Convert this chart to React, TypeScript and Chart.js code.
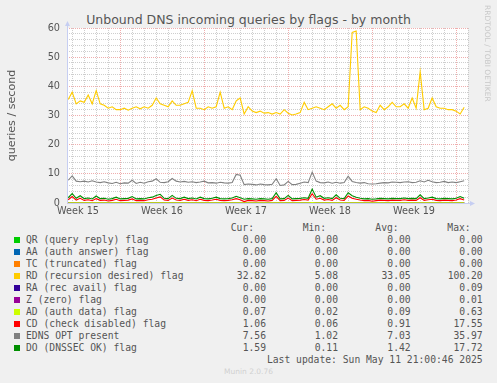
import React, { useEffect, useRef } from "react";
import { Chart, registerables } from "chart.js";

Chart.register(...registerables);

// ---------- data ----------
const TITLE = "Unbound DNS incoming queries by flags - by month";
const Y_LABEL = "queries / second";
const WEEK_LABELS = ["Week 15", "Week 16", "Week 17", "Week 18", "Week 19"];
// x unit = days from the left edge of the plot; Sunday 00:00 after each labelled week
const WEEK_ENDS = [4.42, 11.42, 18.42, 25.42, 32.42];
const X_MAX_DAYS = 33.42;
const SAMPLE_START = 0.1; // days
const SAMPLE_STEP = 1 / 3; // 8 hour samples

const RD = [
  35.5, 38, 34, 35, 34.5, 37, 34, 38.5, 34, 33.5,
  32.5, 33, 32, 32, 32.5, 31.8, 32.5, 33, 32.3, 33,
  32.5, 33.5, 36, 34, 33.5, 33, 35, 33.5, 33.5, 34,
  34.5, 38.5, 32.5, 32.5, 32, 33, 32.5, 33, 38, 32.5,
  33, 32, 35, 36, 30.5, 33, 31.5, 31, 31.5, 30.8,
  31, 30.5, 31, 30.5, 32, 30.8, 30.2, 30.5, 31, 34.5,
  32, 32.5, 33, 32.5, 32, 33, 34, 32.5, 33.5, 32,
  33, 58.5, 59, 32, 33, 32.5, 31.5, 31, 33.5, 32,
  33, 34.5, 33, 33, 34, 32.5, 36, 32.5, 45, 32,
  32.5, 36, 33, 32.5, 32.5, 32, 32, 31.5, 30.5, 32.8,
];
const EDNS = [
  7.8, 9.3, 7.5, 7.3, 7.5, 7.2, 7.6, 7.2, 7.0, 7.3,
  6.9, 6.7, 7.1, 6.6, 6.9, 6.8, 7.8, 6.7, 7.1, 6.8,
  7.3, 7.5, 8.3, 7.1, 7.0, 7.3, 8.4, 7.5, 7.2, 7.4,
  7.1, 7.3, 7.0, 7.2, 7.5, 6.9, 7.0, 6.8, 7.1, 6.9,
  6.8, 7.0, 9.8, 9.5, 6.3, 6.5, 6.4, 6.2, 6.5, 6.3,
  6.2, 6.4, 8.3, 6.0, 6.2, 7.4, 6.3, 6.4, 6.8, 7.2,
  7.0, 10.6, 7.5, 7.0, 6.9, 7.2, 6.8, 7.1, 6.8, 7.0,
  9.2, 7.4, 7.0, 6.8, 7.0, 6.6, 6.5, 6.6, 6.8, 7.0,
  6.9, 7.2, 7.1, 7.0, 7.2, 7.3, 7.0, 7.1, 7.6, 7.2,
  7.8, 7.3, 7.0, 7.1, 7.4, 7.0, 7.2, 7.0, 7.3, 7.6,
];
const DO = [
  1.8, 3.2, 1.6, 2.5, 1.5, 1.7, 1.4, 2.4, 1.5, 1.6,
  1.3, 1.5, 2.0, 1.4, 1.5, 1.6, 2.2, 1.4, 1.5, 1.4,
  1.8, 2.0, 2.6, 3.0, 1.6, 1.5, 2.6, 1.6, 1.5, 2.0,
  1.5, 1.7, 1.4, 2.0, 1.5, 1.4, 1.6, 2.0, 1.5, 1.4,
  1.5, 1.7, 2.3, 1.8, 1.3, 1.5, 1.4, 1.3, 1.5, 1.4,
  1.3, 1.5, 3.5, 1.4, 1.5, 2.6, 1.4, 1.5, 1.6, 1.8,
  1.6, 4.8, 2.0, 2.5, 1.6, 1.8, 1.5, 2.8, 1.6, 1.5,
  3.5, 2.5, 2.0, 1.6, 1.4, 1.5, 1.3, 1.4, 1.6, 1.5,
  1.4, 1.6, 1.5, 1.5, 1.7, 1.5, 1.6, 1.5, 2.8, 1.5,
  1.7, 2.0, 1.5, 1.4, 1.6, 1.5, 1.4, 1.6, 2.2, 1.6,
];
const CD = [
  1.1, 2.2, 1.0, 1.6, 0.9, 1.1, 0.8, 1.5, 0.9, 1.0,
  0.7, 0.9, 1.3, 0.8, 0.9, 1.0, 1.4, 0.8, 0.9, 0.8,
  1.1, 1.3, 1.7, 2.1, 1.0, 0.9, 1.7, 1.0, 0.9, 1.3,
  0.9, 1.1, 0.8, 1.3, 0.9, 0.8, 1.0, 1.3, 0.9, 0.8,
  0.9, 1.1, 1.5, 1.1, 0.5, 0.9, 0.8, 0.7, 0.9, 0.8,
  0.7, 0.9, 2.3, 0.8, 0.9, 1.7, 0.8, 0.9, 1.0, 1.2,
  1.0, 3.2, 1.3, 1.6, 1.0, 1.2, 0.9, 1.8, 1.0, 0.9,
  2.4, 1.6, 1.3, 1.0, 0.8, 0.9, 0.6, 0.8, 1.0, 0.9,
  0.8, 1.0, 0.9, 0.9, 1.1, 0.9, 1.0, 0.9, 1.8, 0.9,
  1.1, 1.3, 0.9, 0.8, 1.0, 0.9, 0.8, 1.0, 1.5, 1.06,
];
const AD = [
  0.09, 0.1, 0.09, 0.09, 0.08, 0.09, 0.1, 0.09, 0.08, 0.09,
  0.09, 0.08, 0.09, 0.1, 0.09, 0.08, 0.09, 0.09, 0.1, 0.09,
  0.08, 0.09, 0.1, 0.11, 0.09, 0.08, 0.1, 0.09, 0.09, 0.08,
  0.09, 0.09, 0.08, 0.09, 0.1, 0.09, 0.08, 0.09, 0.09, 0.08,
  0.09, 0.1, 0.09, 0.09, 0.08, 0.09, 0.08, 0.09, 0.09, 0.08,
  0.09, 0.09, 0.11, 0.08, 0.09, 0.1, 0.09, 0.08, 0.09, 0.09,
  0.1, 0.12, 0.1, 0.09, 0.09, 0.08, 0.09, 0.1, 0.09, 0.08,
  0.11, 0.1, 0.09, 0.09, 0.08, 0.09, 0.08, 0.09, 0.09, 0.08,
  0.09, 0.09, 0.08, 0.09, 0.09, 0.08, 0.09, 0.09, 0.1, 0.09,
  0.09, 0.1, 0.08, 0.09, 0.09, 0.08, 0.09, 0.08, 0.09, 0.07,
];
// series that stayed at 0.00 for the whole month
const ZERO = [
  0, 0, 0, 0, 0, 0, 0, 0, 0, 0, 0, 0, 0, 0, 0, 0, 0, 0, 0, 0,
  0, 0, 0, 0, 0, 0, 0, 0, 0, 0, 0, 0, 0, 0, 0, 0, 0, 0, 0, 0,
  0, 0, 0, 0, 0, 0, 0, 0, 0, 0, 0, 0, 0, 0, 0, 0, 0, 0, 0, 0,
  0, 0, 0, 0, 0, 0, 0, 0, 0, 0, 0, 0, 0, 0, 0, 0, 0, 0, 0, 0,
  0, 0, 0, 0, 0, 0, 0, 0, 0, 0, 0, 0, 0, 0, 0, 0, 0, 0, 0, 0,
];

const SERIES_LABELS = [
  "QR (query reply) flag",
  "AA (auth answer) flag",
  "TC (truncated) flag",
  "RD (recursion desired) flag",
  "RA (rec avail) flag",
  "Z (zero) flag",
  "AD (auth data) flag",
  "CD (check disabled) flag",
  "EDNS OPT present",
  "DO (DNSSEC OK) flag",
];
const SERIES_COLORS = [
  "#00CC00", "#0066B3", "#FF8000", "#FFCC00", "#330099",
  "#990099", "#CCFF00", "#FF0000", "#808080", "#008F00",
];
const SERIES_VALUES = [ZERO, ZERO, ZERO, RD, ZERO, ZERO, AD, CD, EDNS, DO];
const CUR = ["0.00", "0.00", "0.00", "32.82", "0.00", "0.00", "0.07", "1.06", "7.56", "1.59"];
const MIN = ["0.00", "0.00", "0.00", "5.08", "0.00", "0.00", "0.02", "0.06", "1.02", "0.11"];
const AVG = ["0.00", "0.00", "0.00", "33.05", "0.00", "0.00", "0.09", "0.91", "7.03", "1.42"];
const MAX = ["0.00", "0.00", "0.00", "100.20", "0.09", "0.01", "0.63", "17.55", "35.97", "17.72"];
const LAST_UPDATE = "Last update: Sun May 11 21:00:46 2025";
const MUNIN_VERSION = "Munin 2.0.76";
const RRD_CREDIT = "RRDTOOL / TOBI OETIKER";

// ---------- styles ----------
const TEXT = "#555555";
const SANS = "'DejaVu Sans', sans-serif";
const MONO = "'DejaVu Sans Mono', monospace";
const GRID_MINOR = "rgba(185,185,185,0.7)";
const GRID_MAJOR = "rgba(230,130,130,0.65)";
const AXIS = "#C6CEF2";

const near = (a: number, b: number) => Math.abs(a - b) < 1e-6;
const LABEL_CENTERS = WEEK_ENDS.map((w) => w - 3.5);
const DAY_LINES: number[] = [];
for (let d = WEEK_ENDS[0] - 4; d <= X_MAX_DAYS + 1e-6; d += 1) DAY_LINES.push(d);
const X_TICKS = [...DAY_LINES, ...LABEL_CENTERS].sort((a, b) => a - b);

const framePlugin = {
  id: "rrdFrame",
  beforeDraw(chart: any) {
    const { ctx, chartArea: a } = chart;
    ctx.save();
    ctx.fillStyle = "#FFFFFF";
    ctx.fillRect(a.left, a.top, a.right - a.left, a.bottom - a.top);
    ctx.restore();
  },
  afterDraw(chart: any) {
    const { ctx, chartArea: a } = chart;
    const x0 = Math.round(a.left) + 0.5;
    const y0 = Math.round(a.bottom) + 0.5;
    ctx.save();
    ctx.strokeStyle = AXIS;
    ctx.fillStyle = AXIS;
    ctx.lineWidth = 1;
    ctx.beginPath();
    ctx.moveTo(x0, y0);
    ctx.lineTo(x0, a.top - 3);
    ctx.moveTo(x0, y0);
    ctx.lineTo(a.right + 3, y0);
    ctx.stroke();
    // arrows
    ctx.beginPath();
    ctx.moveTo(x0, a.top - 7);
    ctx.lineTo(x0 - 2.5, a.top - 2);
    ctx.lineTo(x0 + 2.5, a.top - 2);
    ctx.closePath();
    ctx.fill();
    ctx.beginPath();
    ctx.moveTo(a.right + 7, y0);
    ctx.lineTo(a.right + 2, y0 - 2.5);
    ctx.lineTo(a.right + 2, y0 + 2.5);
    ctx.closePath();
    ctx.fill();
    ctx.restore();
  },
};

export default function App() {
  const ref = useRef<HTMLCanvasElement>(null);

  useEffect(() => {
    const canvas = ref.current;
    if (!canvas) return;
    const datasets = SERIES_VALUES.map((vals, i) => ({
      label: SERIES_LABELS[i],
      data: vals.map((y, k) => ({ x: SAMPLE_START + k * SAMPLE_STEP, y })),
      borderColor: SERIES_COLORS[i],
      backgroundColor: SERIES_COLORS[i],
      borderWidth: 1.1,
      pointRadius: 0,
      tension: 0,
      fill: false,
      order: SERIES_VALUES.length - 1 - i,
    }));
    const chart = new Chart(canvas, {
      type: "line",
      data: { datasets },
      plugins: [framePlugin],
      options: {
        animation: false,
        responsive: false,
        devicePixelRatio: 1,
        layout: { padding: { left: 0, top: 28, right: 29, bottom: 0 } },
        plugins: {
          legend: { display: false },
          title: { display: false },
          tooltip: { enabled: false },
        },
        scales: {
          x: {
            type: "linear",
            min: 0,
            max: X_MAX_DAYS,
            afterBuildTicks: (s: any) => {
              s.ticks = X_TICKS.map((v) => ({ value: v }));
            },
            afterFit: (s: any) => {
              s.height = 19;
            },
            ticks: {
              autoSkip: false,
              maxRotation: 0,
              minRotation: 0,
              padding: 3,
              color: TEXT,
              font: { family: SANS, size: 9.7 },
              callback: (v: any) => {
                const idx = LABEL_CENTERS.findIndex((c) => near(c, Number(v)));
                return idx >= 0 ? WEEK_LABELS[idx] : "";
              },
            },
            grid: {
              drawTicks: false,
              lineWidth: 1,
              color: (c: any) => {
                const v = c.tick ? c.tick.value : 0;
                if (LABEL_CENTERS.some((l) => near(l, v))) return "rgba(0,0,0,0)";
                if (WEEK_ENDS.some((w) => near(w, v))) return GRID_MAJOR;
                return GRID_MINOR;
              },
            },
            border: { display: false, dash: [1, 1] },
          },
          y: {
            min: 0,
            max: 60,
            afterFit: (s: any) => {
              s.width = 67;
            },
            ticks: {
              stepSize: 2,
              autoSkip: false,
              padding: 7,
              color: TEXT,
              font: { family: SANS, size: 9.7 },
              callback: (v: any) => (Number(v) % 10 === 0 ? String(v) : ""),
            },
            grid: {
              drawTicks: false,
              lineWidth: 1,
              color: (c: any) =>
                c.tick && c.tick.value % 10 === 0 ? GRID_MAJOR : GRID_MINOR,
            },
            border: { display: false, dash: [1, 1] },
            title: {
              display: true,
              text: Y_LABEL,
              color: TEXT,
              font: { family: SANS, size: 11.1 },
              padding: { top: 5, bottom: 0 },
            },
          },
        },
      },
    } as any);
    return () => chart.destroy();
  }, []);

  const rowTop = (k: number) => 233.6 + 12 * k;
  const cell = (text: string, top: number, right: number, key: string) => (
    <div
      key={key}
      style={{
        position: "absolute",
        top,
        right: 497 - right,
        fontFamily: MONO,
        fontSize: 9.7,
        lineHeight: "12px",
        color: TEXT,
        whiteSpace: "pre",
      }}
    >
      {text}
    </div>
  );

  return (
    <div
      style={{
        position: "absolute",
        left: 0,
        top: 0,
        width: 497,
        height: 383,
        background: "#F0F0F0",
        overflow: "hidden",
      }}
    >
      <div
        style={{
          position: "absolute",
          left: 0,
          top: 12,
          width: 497,
          textAlign: "center",
          fontFamily: SANS,
          fontSize: 12.5,
          lineHeight: "15px",
          color: TEXT,
          whiteSpace: "pre",
        }}
      >
        {TITLE}
      </div>
      <canvas
        ref={ref}
        width={497}
        height={222}
        style={{ position: "absolute", left: 0, top: 0, width: 497, height: 222 }}
      />
      <div
        style={{
          position: "absolute",
          left: 483,
          top: 5,
          writingMode: "vertical-rl",
          fontFamily: SANS,
          fontSize: 7.5,
          lineHeight: "9px",
          color: "#C8C8C8",
          whiteSpace: "pre",
        }}
      >
        {RRD_CREDIT}
      </div>
      {cell("Cur:", 221.6, 254, "hc")}
      {cell("Min:", 221.6, 326, "hm")}
      {cell("Avg:", 221.6, 398.7, "ha")}
      {cell("Max:", 221.6, 470.7, "hx")}
      {SERIES_LABELS.map((lab, k) => (
        <React.Fragment key={lab}>
          <div
            style={{
              position: "absolute",
              left: 14,
              top: 237 + 12 * k,
              width: 6,
              height: 6,
              background: SERIES_COLORS[k],
            }}
          />
          <div
            style={{
              position: "absolute",
              left: 26,
              top: rowTop(k),
              fontFamily: MONO,
              fontSize: 9.7,
              lineHeight: "12px",
              color: TEXT,
              whiteSpace: "pre",
            }}
          >
            {lab}
          </div>
          {cell(CUR[k], rowTop(k), 266, "c" + k)}
          {cell(MIN[k], rowTop(k), 338, "m" + k)}
          {cell(AVG[k], rowTop(k), 410.7, "a" + k)}
          {cell(MAX[k], rowTop(k), 482.7, "x" + k)}
        </React.Fragment>
      ))}
      {cell(LAST_UPDATE, rowTop(10), 482.7, "lu")}
      <div
        style={{
          position: "absolute",
          left: 0,
          top: 367,
          width: 497,
          textAlign: "center",
          fontFamily: SANS,
          fontSize: 7.5,
          lineHeight: "9px",
          color: "#D0D0D0",
          whiteSpace: "pre",
        }}
      >
        {MUNIN_VERSION}
      </div>
    </div>
  );
}
